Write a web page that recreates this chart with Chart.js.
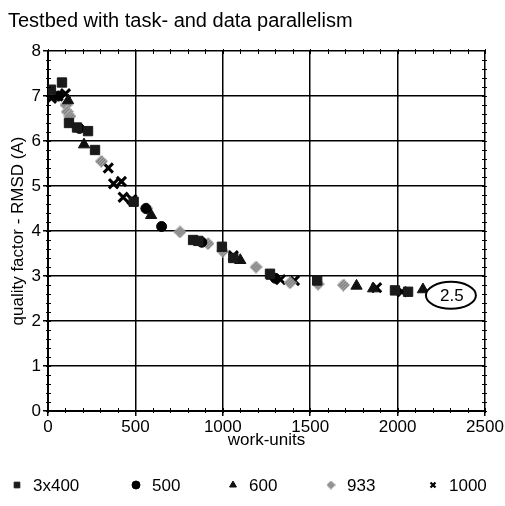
<!DOCTYPE html>
<html>
<head>
<meta charset="utf-8">
<script src="https://cdn.jsdelivr.net/npm/chart.js@4.4.1/dist/chart.umd.min.js"></script>
<style>
  html, body { margin: 0; padding: 0; background: #fff; }
  #wrap { width: 505px; height: 506px; }
</style>
</head>
<body>
<div id="wrap"><canvas id="c" width="505" height="506"></canvas></div>
<script>
// series labels (number of nodes / work distribution)
const seriesNames = ['3x400', '500', '600', '933', '1000'];

// [work-units, RMSD] pairs
const s3x400 = [[17, 7.14], [80, 7.3], [120, 6.4], [166, 6.3], [229, 6.22], [269, 5.8], [490, 4.65], [830, 3.8], [860, 3.78], [995, 3.65], [1060, 3.4], [1270, 3.05], [1540, 2.9], [1985, 2.68], [2060, 2.65]];
const s500 = [[60, 7.0], [180, 6.28], [560, 4.5], [650, 4.1], [880, 3.75], [1300, 2.95]];
const s600 = [[115, 6.9], [206, 5.92], [590, 4.35], [1100, 3.35], [1280, 3.0], [1765, 2.78], [1860, 2.72], [2145, 2.7]];
const s933 = [[103, 6.8], [110, 6.65], [125, 6.55], [305, 5.55], [565, 4.5], [755, 3.98], [915, 3.72], [1000, 3.55], [1190, 3.2], [1385, 2.85], [1545, 2.82], [1690, 2.8]];
const s1000 = [[20, 6.95], [57, 7.0], [100, 7.05], [345, 5.4], [375, 5.05], [420, 5.1], [430, 4.75], [480, 4.7], [1060, 3.45], [1330, 2.92], [1410, 2.9], [1880, 2.74], [2025, 2.65]];

const xTicksMax = 2500;
const yTicksMax = 8;

// hatched grey marker used for the 933 series
function hatchMarker(size) {
    const cv = document.createElement('canvas');
    cv.width = size; cv.height = size;
    const g = cv.getContext('2d');
    g.beginPath();
    g.moveTo(size / 2, 0);
    g.lineTo(size, size / 2);
    g.lineTo(size / 2, size);
    g.lineTo(0, size / 2);
    g.closePath();
    g.save();
    g.clip();
    g.fillStyle = '#e4e4e4';
    g.fillRect(0, 0, size, size);
    g.strokeStyle = '#666';
    g.lineWidth = 1.3;
    for (let i = -size; i < size * 2; i += 3) {
        g.beginPath();
        g.moveTo(i, size);
        g.lineTo(i + size, 0);
        g.stroke();
    }
    g.restore();
    return cv;
}

const toPts = arr => arr.map(p => ({ x: p[0], y: p[1] }));

const styles = [
    { pointStyle: 'rect', radius: 6.6, bg: '#1a1a1a', border: '#1a1a1a', bw: 1 },
    { pointStyle: 'circle', radius: 5, bg: '#000', border: '#000', bw: 1 },
    { pointStyle: 'triangle', radius: 6.5, bg: '#111', border: '#111', bw: 1 },
    { pointStyle: hatchMarker(13), radius: 6, bg: '#bbb', border: '#888', bw: 1 },
    { pointStyle: 'crossRot', radius: 6.5, bg: '#000', border: '#000', bw: 3 }
];
const allSeries = [s3x400, s500, s600, s933, s1000];

const datasets = allSeries.map((s, i) => ({
    label: seriesNames[i],
    data: toPts(s),
    pointStyle: styles[i].pointStyle,
    pointRadius: styles[i].radius,
    pointBackgroundColor: styles[i].bg,
    pointBorderColor: styles[i].border,
    pointBorderWidth: styles[i].bw,
    showLine: false
}));

const font = 'Liberation Sans, Arial, Helvetica, sans-serif';
const legendHatch = hatchMarker(9);

// minor ticks on every side of the frame
const minorTicks = {
    id: 'minorTicks',
    afterDraw(chart) {
        const { ctx, chartArea: a, scales: { x, y } } = chart;
        ctx.save();
        ctx.strokeStyle = '#000';
        ctx.lineWidth = 1;
        for (let v = 0; v <= yTicksMax; v += 0.2) {
            const py = Math.round(y.getPixelForValue(v)) + 0.5;
            ctx.beginPath();
            ctx.moveTo(a.left - 2, py); ctx.lineTo(a.left + 3, py);
            ctx.moveTo(a.right - 3, py); ctx.lineTo(a.right + 2, py);
            ctx.stroke();
        }
        for (let v = 0; v <= xTicksMax; v += 100) {
            const px = Math.round(x.getPixelForValue(v)) + 0.5;
            ctx.beginPath();
            ctx.moveTo(px, a.bottom - 3); ctx.lineTo(px, a.bottom + 2);
            ctx.moveTo(px, a.top - 2); ctx.lineTo(px, a.top + 3);
            ctx.stroke();
        }
        ctx.restore();
    }
};

// the circled "2.5" label at the end of the curve
const circledNote = {
    id: 'circledNote',
    afterDatasetsDraw(chart) {
        const { ctx, scales: { x, y } } = chart;
        const cx = x.getPixelForValue(2305);
        const cy = y.getPixelForValue(2.57);
        ctx.save();
        ctx.fillStyle = '#fff';
        ctx.strokeStyle = '#000';
        ctx.lineWidth = 2;
        ctx.beginPath();
        ctx.ellipse(cx, cy, 25, 13.5, 0, 0, Math.PI * 2);
        ctx.fill();
        ctx.stroke();
        ctx.fillStyle = '#000';
        ctx.font = '17px ' + font;
        ctx.textAlign = 'center';
        ctx.textBaseline = 'middle';
        ctx.fillText('2.5', cx + 1, cy + 1);
        ctx.restore();
    }
};

// legend row under the chart
const legendRow = {
    id: 'legendRow',
    afterDraw(chart, args, opts) {
        const { ctx } = chart;
        ctx.save();
        ctx.font = '17px ' + font;
        ctx.textBaseline = 'middle';
        chart.data.datasets.forEach((ds, i) => {
            const mx = opts.xs[i];
            const st = i === 3 ? legendHatch : ds.pointStyle;
            ctx.fillStyle = ds.pointBackgroundColor;
            ctx.strokeStyle = ds.pointBorderColor;
            ctx.lineWidth = i === 4 ? 2.2 : 1;
            Chart.helpers.drawPoint(ctx, {
                pointStyle: st,
                radius: i === 4 ? 3.5 : 4,
                borderWidth: ctx.lineWidth,
                rotation: 0
            }, mx, opts.y);
            ctx.fillStyle = '#000';
            ctx.fillText(ds.label, mx + 16, opts.y + 1);
        });
        ctx.restore();
    }
};

new Chart(document.getElementById('c'), {
    type: 'scatter',
    data: { datasets: datasets },
    plugins: [minorTicks, circledNote, legendRow],
    options: {
        responsive: false,
        animation: false,
        layout: { padding: { left: 8, right: 20, top: 0, bottom: 55 } },
        plugins: {
            legend: { display: false },
            tooltip: { enabled: false },
            title: {
                display: true,
                text: 'Testbed with task- and data parallelism',
                align: 'start',
                color: '#000',
                font: { family: font, size: 20, weight: 'normal' },
                padding: { top: 9, bottom: 18 }
            },
            legendRow: { xs: [17, 136, 233, 331, 433], y: 485 }
        },
        scales: {
            x: {
                type: 'linear',
                min: 0,
                max: xTicksMax,
                afterFit: s => { s.height = 40; },
                ticks: {
                    stepSize: 500,
                    color: '#000',
                    padding: 1,
                    maxRotation: 0,
                    callback: v => String(v),
                    font: { family: font, size: 17 }
                },
                grid: { color: '#000', lineWidth: 1.5, tickLength: 5 },
                border: { color: '#000', width: 2 },
                title: {
                    display: true,
                    text: 'work-units',
                    color: '#000',
                    padding: 0,
                    font: { family: font, size: 17 }
                }
            },
            y: {
                min: 0,
                max: yTicksMax,
                afterFit: s => { s.width = 40; },
                ticks: {
                    stepSize: 1,
                    color: '#000',
                    padding: 2,
                    font: { family: font, size: 17 }
                },
                grid: { color: '#000', lineWidth: 1.5, tickLength: 5 },
                border: { color: '#000', width: 2 },
                title: {
                    display: true,
                    text: 'quality factor - RMSD (A)',
                    color: '#000',
                    padding: 0,
                    font: { family: font, size: 17 }
                }
            }
        }
    }
});
</script>
</body>
</html>
